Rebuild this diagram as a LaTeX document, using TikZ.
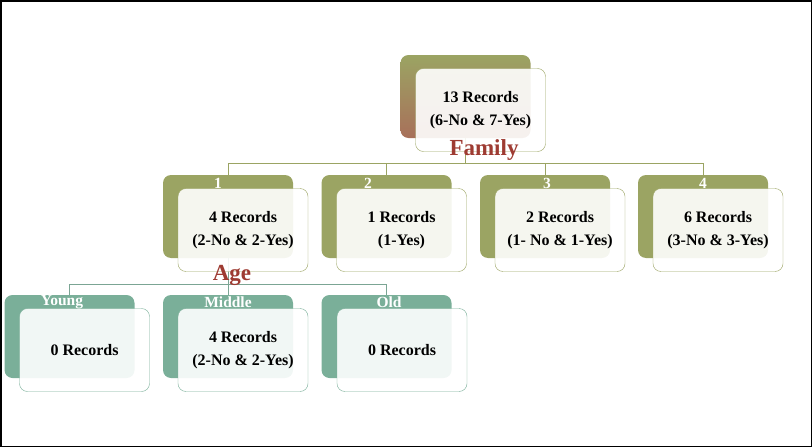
\documentclass[tikz,border=0pt]{standalone}
\usepackage{fontspec}
\setmainfont{Liberation Serif}
\definecolor{olivebox}{HTML}{9BA463}
\definecolor{tealbox}{HTML}{7AAF99}
\definecolor{titlered}{HTML}{9E3B32}
\definecolor{topred}{HTML}{A8705A}

\begin{document}
\begin{tikzpicture}[x=1pt, y=-1pt,
	back/.style = {rounded corners=8pt, minimum width=130pt, minimum height=83pt, inner sep=0pt},
	front/.style = {rounded corners=8pt, fill=white, fill opacity=0.9, text opacity=1, minimum width=130pt, minimum height=83pt, inner sep=0pt, align=center, font=\bfseries\fontsize{16}{23}\selectfont},
	tag/.style = {text=white, inner sep=0pt, font=\bfseries\fontsize{15.5}{15.5}\selectfont},
	title/.style = {text=titlered, inner sep=0pt, font=\bfseries\fontsize{23}{23}\selectfont},
	link/.style = {line width=1pt}]
	\useasboundingbox (0,0) rectangle (812,447);
	\draw[line width=1.5pt] (0.75,0.75) rectangle (811.25,446.25);
	% back boxes
	\node[back, top color=olivebox, bottom color=topred] (rootb) at (465.5,96.5) {};
	\node[back, fill=olivebox] (f1b) at (228,216.5) {};
	\node[back, fill=olivebox] (f2b) at (386.5,216.5) {};
	\node[back, fill=olivebox] (f3b) at (545,216.5) {};
	\node[back, fill=olivebox] (f4b) at (703,216.5) {};
	\node[back, fill=tealbox] (a1b) at (69.5,336.5) {};
	\node[back, fill=tealbox] (a2b) at (228,336.5) {};
	\node[back, fill=tealbox] (a3b) at (386.5,336.5) {};
	% connectors
	\draw[link, olivebox] (rootb.south) -- (rootb.south |- 0,163) -| (f1b.north);
	\draw[link, olivebox] (rootb.south |- 0,163) -| (f2b.north);
	\draw[link, olivebox] (rootb.south |- 0,163) -| (f3b.north);
	\draw[link, olivebox] (rootb.south |- 0,163) -| (f4b.north);
	\draw[link, tealbox!80!gray] (f1b.south) -- (f1b.south |- 0,284) -| (a1b.north);
	\draw[link, tealbox!80!gray] (f1b.south |- 0,284) -| (a2b.north);
	\draw[link, tealbox!80!gray] (f1b.south |- 0,284) -| (a3b.north);
	% front boxes
	\node[front, draw=olivebox] (root) at (480.5,110) {13 Records\\(6-No \& 7-Yes)};
	\node[front, draw=olivebox] (f1) at (243,230) {4 Records\\(2-No \& 2-Yes)};
	\node[front, draw=olivebox] (f2) at (401.5,230) {1 Records\\(1-Yes)};
	\node[front, draw=olivebox] (f3) at (560,230) {2 Records\\(1- No \& 1-Yes)};
	\node[front, draw=olivebox] (f4) at (718,230) {6 Records\\(3-No \& 3-Yes)};
	\node[front, draw=tealbox] (a1) at (84.5,350) {0 Records};
	\node[front, draw=tealbox] (a2) at (243,350) {4 Records\\(2-No \& 2-Yes)};
	\node[front, draw=tealbox] (a3) at (402,350) {0 Records};
	% tags
	\node[tag] (t1) at (218,183) {1};
	\node[tag] (t2) at (368,183) {2};
	\node[tag] (t3) at (547,183) {3};
	\node[tag] (t4) at (703,183) {4};
	\node[tag] (ty) at (62,302) {Young};
	\node[tag] (tm) at (228,302) {Middle};
	\node[tag] (to) at (389,302) {Old};
	% titles
	\node[title] (family) at (484,150) {Family};
	\node[title] (age) at (232,275) {Age};
\end{tikzpicture}
\end{document}
